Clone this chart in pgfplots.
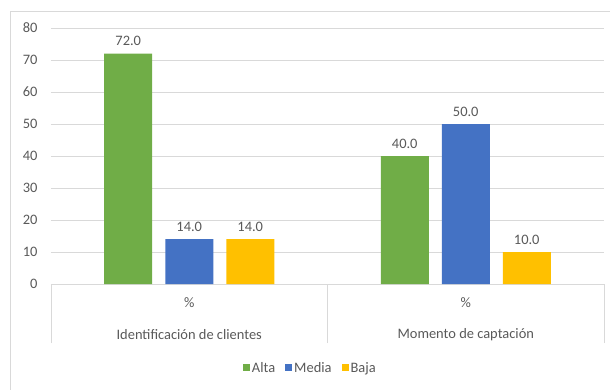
\documentclass[border=0pt]{standalone}
\usepackage{pgfplots}
\pgfplotsset{compat=1.18}
\usepackage{fontspec}
\setmainfont{Carlito}
\definecolor{alta}{HTML}{70AD47}
\definecolor{media}{HTML}{4472C4}
\definecolor{baja}{HTML}{FFC000}
\definecolor{txt}{HTML}{595959}
\definecolor{gridc}{HTML}{D9D9D9}
\begin{document}
\begin{tikzpicture}
% page extent around the plot area (plot area bottom-left is the origin)
\useasboundingbox (-51bp,-106bp) rectangle (559bp,284bp);
\draw[gridc, line width=0.75bp] (-41bp,-120bp) rectangle (575bp,273bp);
\begin{axis}[
  at={(0,0)}, anchor=south west,
  scale only axis, width=553bp, height=256bp,
  ybar=13bp, bar width=48bp,
  xmin=-0.5, xmax=1.5, ymin=0, ymax=80,
  ytick={0,10,...,80},
  xtick={-0.5,0.5,1.5}, xticklabels={},
  xtick pos=bottom, tick align=outside,
  major tick length=59bp,
  xtick style={draw=gridc, line width=0.75bp},
  ytick style={draw=none},
  axis line style={draw=none},
  ymajorgrids, grid style={gridc, line width=0.75bp},
  font=\fontsize{14.5}{17}\selectfont,
  tick label style={text=txt},
  yticklabel style={xshift=49bp},
  /pgf/number format/assume math mode=true,
  nodes near coords,
  every node near coord/.append style={text=txt, yshift=4bp,
    /pgf/number format/fixed, /pgf/number format/fixed zerofill,
    /pgf/number format/precision=1},
  legend style={at={(axis description cs:0.469,-0.328)}, anchor=center,
    draw=none, fill=none, text=txt, legend columns=-1,
    /tikz/every even column/.append style={column sep=8bp}},
  legend image code/.code={\fill[#1] (0bp,-3.5bp) rectangle (7bp,3.5bp);},
  clip=false,
]
\addplot[fill=alta, draw=none] coordinates {(0,72) (1,40)};
\addplot[fill=media, draw=none] coordinates {(0,14) (1,50)};
\addplot[fill=baja, draw=none] coordinates {(0,14) (1,10)};
\legend{Alta, Media, Baja}
\node[text=txt] at (axis cs:0,0) [yshift=-19bp] {\%};
\node[text=txt] at (axis cs:1,0) [yshift=-19bp] {\%};
\node[text=txt] at (axis cs:0,0) [yshift=-51bp] {Identificación de clientes};
\node[text=txt] at (axis cs:1,0) [yshift=-51bp] {Momento de captación};
\end{axis}
\end{tikzpicture}
\end{document}
